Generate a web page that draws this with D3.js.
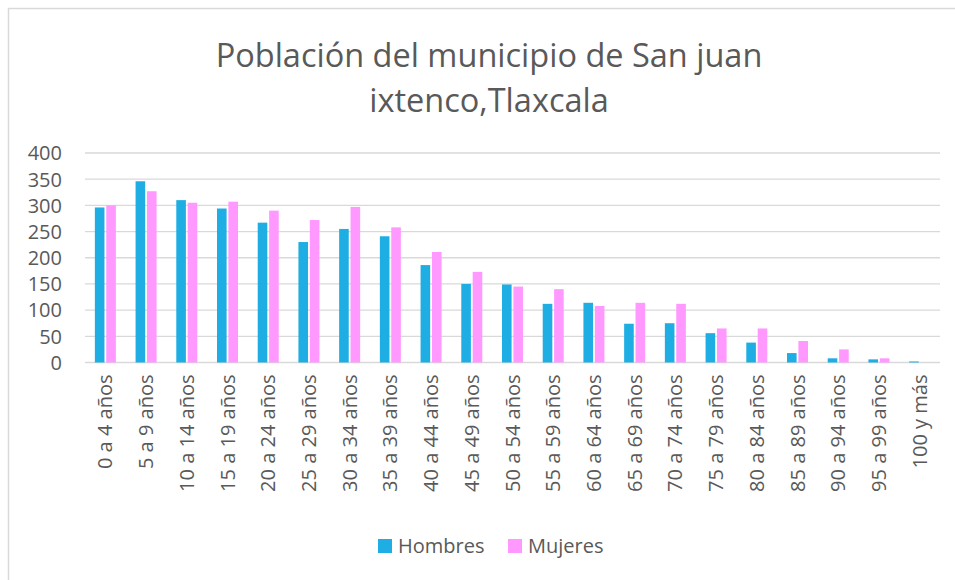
<!DOCTYPE html>
<html>
<head>
<meta charset="utf-8">
<script src="https://cdn.jsdelivr.net/npm/d3@7/dist/d3.min.js"></script>
<style>
  html, body { margin: 0; padding: 0; background: #fff; }
  svg { display: block; }
  text { font-family: "Open Sans", Lato, sans-serif; fill: #595959; }
</style>
</head>
<body>
<svg id="chart" width="955" height="580"></svg>
<script>
// Age groups and population per sex
const categories = ["0 a 4 años", "5 a 9 años", "10 a 14 años", "15 a 19 años", "20 a 24 años",
  "25 a 29 años", "30 a 34 años", "35 a 39 años", "40 a 44 años", "45 a 49 años",
  "50 a 54 años", "55 a 59 años", "60 a 64 años", "65 a 69 años", "70 a 74 años",
  "75 a 79 años", "80 a 84 años", "85 a 89 años", "90 a 94 años", "95 a 99 años", "100 y más"];
const hombres = [296, 346, 310, 294, 267, 230, 255, 241, 186, 150, 149, 112, 114, 74, 75, 56, 38, 18, 8, 6, 2];
const mujeres = [300, 327, 305, 307, 290, 272, 297, 258, 211, 173, 145, 140, 108, 114, 112, 65, 65, 41, 25, 8, 0];
const seriesNames = ["Hombres", "Mujeres"];
const seriesColors = ["#1eaee3", "#ff99ff"];
const yTicks = [0, 50, 100, 150, 200, 250, 300, 350, 400];
const titleLines = ["Población del municipio de San juan", "ixtenco,Tlaxcala"];

const svg = d3.select("#chart");

// chart frame
svg.append("rect")
  .attr("x", 8.5).attr("y", 8.5)
  .attr("width", 1000).attr("height", 1000)
  .attr("fill", "none").attr("stroke", "#d9d9d9").attr("stroke-width", 1.5);

const plot = { left: 85, right: 940, top: 153, bottom: 362.5 };

const x = d3.scaleBand().domain(categories).range([plot.left, plot.right]).paddingInner(0).paddingOuter(0);
const y = d3.scaleLinear().domain([0, 400]).range([plot.bottom, plot.top]);

// title
svg.append("g").selectAll("text").data(titleLines).join("text")
  .attr("x", 489).attr("y", (d, i) => 67 + i * 45)
  .attr("text-anchor", "middle")
  .style("font-size", "32.5px")
  .text(d => d);

// gridlines
svg.append("g").selectAll("line").data(yTicks).join("line")
  .attr("x1", plot.left).attr("x2", plot.right)
  .attr("y1", d => y(d)).attr("y2", d => y(d))
  .attr("stroke", "#d9d9d9").attr("stroke-width", 1.3);

// y axis labels
const yAxis = d3.axisLeft(y).tickValues(yTicks).tickSize(0).tickPadding(0);
const yg = svg.append("g").attr("transform", `translate(62,0)`).call(yAxis);
yg.select(".domain").remove();
yg.selectAll("text").style("font-size", "20px").attr("dy", "0.34em").attr("fill", "#595959");

// bars
const barW = 9.6, gap = 1.8;
const series = [hombres, mujeres];
series.forEach((vals, s) => {
  svg.append("g").selectAll("rect").data(vals).join("rect")
    .attr("x", (d, i) => x(categories[i]) + x.bandwidth() / 2 - barW - gap / 2 + s * (barW + gap))
    .attr("y", d => y(d))
    .attr("width", barW)
    .attr("height", d => y(0) - y(d))
    .attr("fill", seriesColors[s]);
});

// x axis labels, rotated
const xAxis = d3.axisBottom(x).tickSize(0).tickPadding(0);
const xg = svg.append("g").attr("transform", `translate(0,${plot.bottom})`).call(xAxis);
xg.select(".domain").remove();
xg.selectAll("text")
  .style("font-size", "20px")
  .attr("fill", "#595959")
  .attr("text-anchor", "end")
  .attr("transform", "rotate(-90)")
  .attr("x", -12).attr("y", 0).attr("dy", "0.35em");

// legend
const legend = svg.append("g");
const legendX = [378, 508];
seriesNames.forEach((n, i) => {
  legend.append("rect").attr("x", legendX[i]).attr("y", 539).attr("width", 14).attr("height", 14)
    .attr("fill", seriesColors[i]);
  legend.append("text").attr("x", legendX[i] + 20).attr("y", 553)
    .style("font-size", "20px").text(n);
});
</script>
</body>
</html>
